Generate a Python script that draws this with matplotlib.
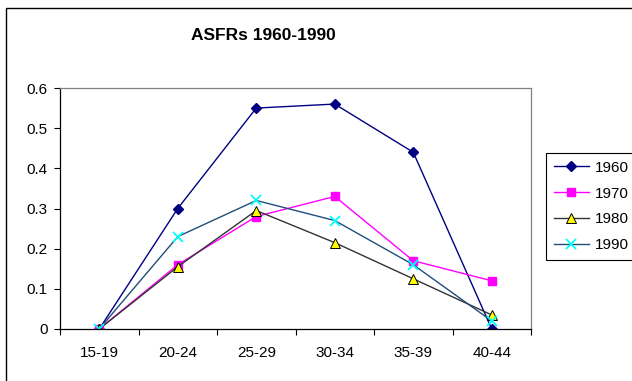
import numpy as np
import matplotlib.pyplot as plt
from matplotlib.patches import Rectangle

plt.rcParams['font.family'] = ['Liberation Sans', 'DejaVu Sans']

# age groups on the x axis
ages = ['15-19', '20-24', '25-29', '30-34', '35-39', '40-44']

# age specific fertility rates by year
asfr_1960 = [0.0, 0.30, 0.55, 0.56, 0.44, 0.0]
asfr_1970 = [0.0, 0.16, 0.28, 0.33, 0.17, 0.12]
asfr_1980 = [0.0, 0.155, 0.295, 0.215, 0.125, 0.035]
asfr_1990 = [0.0, 0.23, 0.32, 0.27, 0.16, 0.02]

fig = plt.figure(figsize=(6.32, 3.81), dpi=100)

# outer chart border (runs off the right and bottom edges)
fig.patches.append(Rectangle((6/632, -0.2), 1.2, 1.2 - 8/381, transform=fig.transFigure,
                             fill=False, edgecolor='black', linewidth=1.0, clip_on=False))

ax = fig.add_axes([60/632, 1 - 329/381, (531 - 60)/632, (329 - 88)/381])
x = np.arange(len(ages))

ax.plot(x, asfr_1960, color='#000080', lw=1.0, marker='D', ms=5,
        mfc='#000080', mec='#000080', label='1960')
ax.plot(x, asfr_1970, color='#FF00FF', lw=1.0, marker='s', ms=6,
        mfc='#FF00FF', mec='#FF00FF', label='1970')
ax.plot(x, asfr_1980, color='#333333', lw=1.0, marker='^', ms=7,
        mfc='#FFFF00', mec='black', mew=0.7, label='1980')
ax.plot(x, asfr_1990, color='#1F4E79', lw=1.0, marker='x', ms=7,
        mec='#00FFFF', mew=1.3, label='1990')

ax.set_xlim(-0.5, len(ages) - 0.5)
ax.set_ylim(0, 0.6)
ax.set_yticks(np.arange(0, 0.61, 0.1))
ax.set_yticklabels(['0', '0.1', '0.2', '0.3', '0.4', '0.5', '0.6'])
ax.set_xticks(x)
ax.set_xticklabels(ages)
ax.set_xticks(np.arange(-0.5, len(ages)), minor=True)
ax.tick_params(axis='x', which='major', length=0, labelsize=11, pad=12)
ax.tick_params(axis='x', which='minor', length=4, direction='out', width=0.8)
ax.tick_params(axis='y', length=4, direction='out', labelsize=11, width=0.8, pad=5)

for s in ['left', 'bottom']:
    ax.spines[s].set_color('black')
    ax.spines[s].set_linewidth(0.9)
for s in ['top', 'right']:
    ax.spines[s].set_color('#808080')
    ax.spines[s].set_linewidth(0.9)

fig.text(263/632, 1 - 35/381, 'ASFRs 1960-1990', ha='center', va='center',
         fontsize=12.5, fontweight='bold')

leg = ax.legend(loc='upper left', bbox_to_anchor=(546/632, 1 - 153/381),
                bbox_transform=fig.transFigure, fontsize=11, frameon=True,
                fancybox=False, edgecolor='black', framealpha=1,
                handlelength=2.3, handletextpad=0.4, labelspacing=0.78,
                borderpad=0.5, borderaxespad=0)
leg.get_frame().set_linewidth(0.8)

plt.savefig('out.png', dpi=100)
